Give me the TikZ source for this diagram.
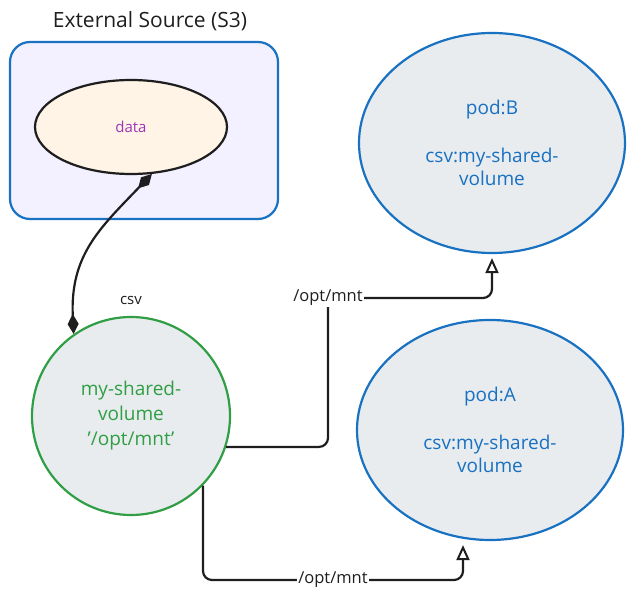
\documentclass[tikz,border=0pt]{standalone}
\usepackage{fontspec}
\setmainfont{Open Sans}
\usetikzlibrary{arrows.meta,shapes.geometric}
\definecolor{inkblue}{HTML}{1971C2}
\definecolor{inkgreen}{HTML}{2F9E44}
\definecolor{inkpurple}{HTML}{9C36B5}
\definecolor{inkblack}{HTML}{1E1E1E}
\definecolor{boxlilac}{HTML}{F3F0FF}
\definecolor{datacream}{HTML}{FFF4E6}
\definecolor{podgrey}{HTML}{E9ECEF}

\begin{document}
\begin{tikzpicture}[x=1pt, y=-1pt, line width=2.2pt,
    podnode/.style={ellipse, draw=inkblue, fill=podgrey, text=inkblue, align=center,
        font=\fontsize{19}{23}\selectfont, minimum width=266pt, minimum height=220pt, inner sep=0pt},
    mountlabel/.style={fill=white, inner sep=1pt, text=inkblack, font=\fontsize{16.5}{18}\selectfont},
    mountline/.style={draw=inkblack, rounded corners=9pt, shorten >=4pt,
        -{Triangle[open, length=15pt, width=13pt, line width=2pt]}}]
    \useasboundingbox (0,0) rectangle (633,601);

    % source bucket
    \node[draw=inkblue, fill=boxlilac, rounded corners=20pt, minimum width=268pt,
        minimum height=177pt] (S3) at (144,130.5) {};
    \node[text=inkblack, font=\fontsize{21}{24}\selectfont] (S3_title) at (150,21) {External Source (S3)};
    \node[ellipse, draw=inkblack, fill=datacream, text=inkpurple, minimum width=192pt,
        minimum height=94pt, font=\fontsize{15}{17}\selectfont] (data) at (131,127) {data};

    % shared volume
    \node[circle, draw=inkgreen, fill=podgrey, text=inkgreen, align=center, minimum size=198pt,
        inner sep=0pt, font=\fontsize{19}{25}\selectfont] (vol) at (131,416) {my-shared-\\volume\\'/opt/mnt'};
    \node[text=inkblack, font=\fontsize{15}{17}\selectfont] (vol_csv) at (131,300) {csv};

    % pods
    \node[podnode] (podB) at (492,143) {pod:B\\[25pt]csv:my-shared-\\volume};
    \node[podnode] (podA) at (490,430) {pod:A\\[25pt]csv:my-shared-\\volume};

    \coordinate (bendB) at (328,298);
    \coordinate (bendA) at (333,580);

    \draw[draw=inkblack, {Diamond[length=20pt, width=11pt]}-{Diamond[length=20pt, width=11pt]}]
        (data.-66) .. controls (100,228) and (70,255) .. (vol.125);
    \draw[mountline] (vol.-18) -| (bendB) -| (podB.south);
    \draw[mountline] (vol.-44) |- (bendA) -| ([xshift=-27pt]podA.south);

    \node[mountlabel] (mntB) at (bendB) {/opt/mnt};
    \node[mountlabel] (mntA) at (bendA) {/opt/mnt};
\end{tikzpicture}
\end{document}
